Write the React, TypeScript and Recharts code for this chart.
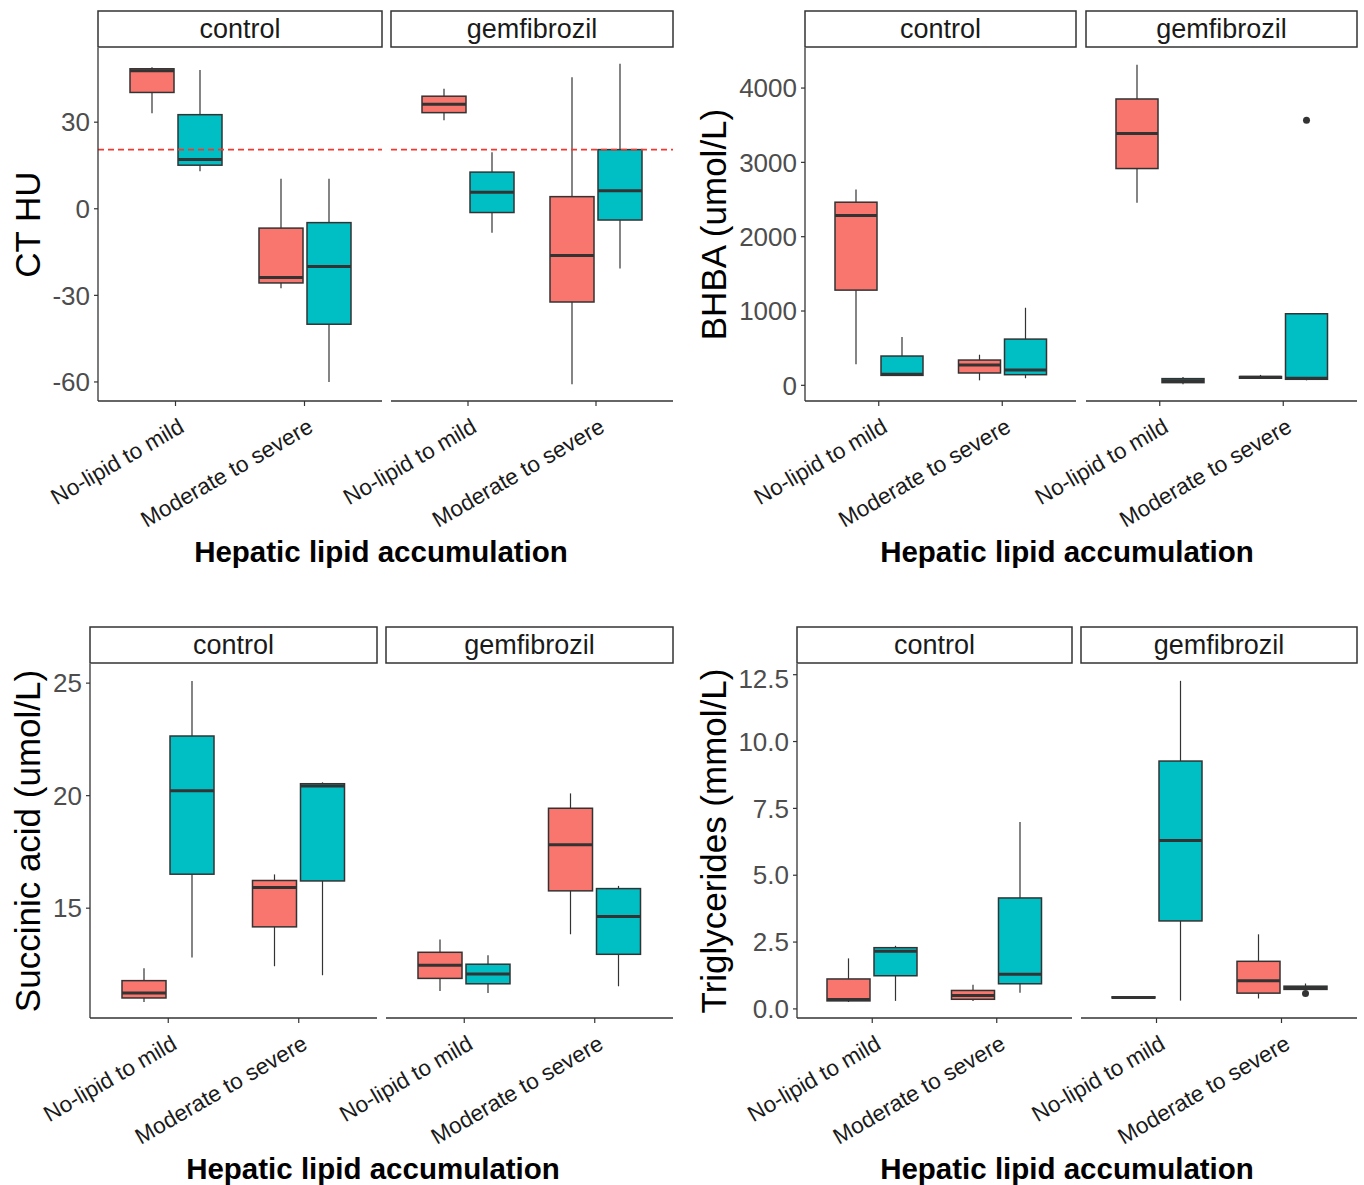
import React from 'react'
import { ComposedChart, Bar, XAxis, YAxis, ReferenceLine } from 'recharts'

const FONT = "'Liberation Sans', Arial, Helvetica, sans-serif"
const RED = '#F8766D'
const TEAL = '#00BFC4'
const INK = '#333333'

const categories = ['No-lipid to mild', 'Moderate to severe']
const facetNames = ['control', 'gemfibrozil']
const xTitle = 'Hepatic lipid accumulation'

// each box: [lower whisker, Q1, median, Q3, upper whisker], one per category
const ctControlRed = [[33.1, 40.3, 47.8, 48.5, 49.0], [-27.5, -25.7, -23.8, -6.7, 10.4]]
const ctControlTeal = [[13.0, 15.1, 17.1, 32.6, 48.1], [-60.0, -40.0, -20.0, -4.8, 10.4]]
const ctGemRed = [[30.7, 33.3, 36.2, 39.0, 41.6], [-60.8, -32.3, -16.2, 4.2, 45.6]]
const ctGemTeal = [[-8.3, -1.3, 5.7, 12.7, 19.6], [-20.7, -3.9, 6.2, 20.5, 50.2]]
const ctThreshold = 20.5
const ctTicks = [-60, -30, 0, 30]

const bhbaControlRed = [[282, 1281, 2285, 2464, 2634], [67, 166, 273, 340, 412]]
const bhbaControlTeal = [[130, 134, 148, 394, 650], [94, 143, 206, 622, 1044]]
const bhbaGemRed = [[2456, 2917, 3387, 3853, 4315], [90, 95, 108, 118, 140]]
const bhbaGemTeal = [[13, 36, 63, 90, 112], [67, 81, 94, 963, 963]]
const bhbaGemTealOutliers = [[], [3566]]
const bhbaTicks = [0, 1000, 2000, 3000, 4000]

const succControlRed = [[10.83, 11.01, 11.23, 11.78, 12.33], [12.42, 14.17, 15.92, 16.23, 16.5]]
const succControlTeal = [[12.81, 16.51, 20.22, 22.65, 25.1], [12.02, 16.21, 20.43, 20.53, 20.59]]
const succGemRed = [[11.32, 11.88, 12.46, 13.04, 13.61], [13.84, 15.77, 17.82, 19.44, 20.1]]
const succGemTeal = [[11.23, 11.64, 12.08, 12.51, 12.91], [11.53, 12.95, 14.63, 15.87, 15.99]]
const succTicks = [15, 20, 25]

const tgControlRed = [[0.26, 0.3, 0.35, 1.12, 1.89], [0.3, 0.36, 0.5, 0.69, 0.9]]
const tgControlTeal = [[0.3, 1.24, 2.16, 2.29, 2.36], [0.6, 0.94, 1.3, 4.15, 6.99]]
const tgGemRed = [[0.4, 0.41, 0.43, 0.45, 0.46], [0.39, 0.59, 1.05, 1.78, 2.79]]
const tgGemTeal = [[0.31, 3.29, 6.3, 9.27, 12.27], [0.73, 0.73, 0.79, 0.85, 0.95]]
const tgGemTealOutliers = [[], [0.58]]
const tgTicks = [0, 2.5, 5, 7.5, 10, 12.5]

interface Box {
  s: number[]
  out: number[]
}

const noOut = [[], []]

function makeRows(red: number[][], teal: number[][], redOut: number[][] = noOut, tealOut: number[][] = noOut) {
  return categories.map((cat, i) => ({
    cat,
    red: { s: red[i], out: redOut[i] },
    teal: { s: teal[i], out: tealOut[i] },
  }))
}

const extent = (b: Box) => [Math.min(b.s[0], ...b.out), Math.max(b.s[4], ...b.out)]

function BoxShape(props: any) {
  const { x, y, width, height, payload, group, color } = props
  const b: Box = payload[group]
  const [lo, hi] = extent(b)
  const span = hi - lo || 1
  const py = (v: number) => y + ((hi - v) / span) * height
  const cx = x + width / 2
  const [wl, q1, med, q3, wh] = b.s
  return (
    <g>
      <line x1={cx} x2={cx} y1={py(wh)} y2={py(q3)} stroke={INK} strokeWidth={1.2} />
      <line x1={cx} x2={cx} y1={py(q1)} y2={py(wl)} stroke={INK} strokeWidth={1.2} />
      <rect
        x={x}
        y={py(q3)}
        width={width}
        height={Math.max(py(q1) - py(q3), 0.5)}
        fill={color}
        stroke={INK}
        strokeWidth={1.5}
      />
      <line x1={x} x2={x + width} y1={py(med)} y2={py(med)} stroke={INK} strokeWidth={3} />
      {b.out.map((v, i) => (
        <circle key={i} cx={cx} cy={py(v)} r={3.5} fill={INK} />
      ))}
    </g>
  )
}

function XTick(props: any) {
  const { x, y, payload } = props
  const ax = x + 10
  const ay = y + 23
  return (
    <text
      x={ax}
      y={ay}
      transform={`rotate(-30, ${ax}, ${ay})`}
      textAnchor="end"
      fontSize={22.5}
      fontFamily={FONT}
      fill="#1a1a1a"
    >
      {payload.value}
    </text>
  )
}

const Y_W = 80
const X_H = 130

function Facet({ left, top, plotW, plotH, showY, domain, ticks, fmt, rows, refY }: any) {
  const yw = showY ? Y_W : 0
  const pad = Math.round(plotW * 0.0455)
  const bs = Math.round(plotW * 0.155)
  return (
    <div style={{ position: 'absolute', left: left - yw, top }}>
      <ComposedChart
        width={plotW + yw}
        height={plotH + X_H}
        data={rows}
        margin={{ top: 0, right: 0, bottom: 0, left: 0 }}
        barGap={4}
      >
        <XAxis
          dataKey="cat"
          height={X_H}
          padding={{ left: pad, right: pad }}
          interval={0}
          tickSize={5}
          axisLine={{ stroke: INK, strokeWidth: 1.3 }}
          tickLine={{ stroke: INK, strokeWidth: 1.2 }}
          tick={<XTick />}
        />
        <YAxis
          type="number"
          domain={domain}
          ticks={ticks}
          allowDataOverflow
          hide={!showY}
          width={Y_W}
          tickSize={4}
          tickMargin={4}
          tickFormatter={fmt}
          axisLine={{ stroke: INK, strokeWidth: 1.3 }}
          tickLine={{ stroke: INK, strokeWidth: 1.2 }}
          tick={{ fill: '#4d4d4d', fontSize: 26, fontFamily: FONT }}
        />
        {refY !== undefined && (
          <ReferenceLine y={refY} stroke="#F2382F" strokeWidth={1.6} strokeDasharray="6 4" />
        )}
        <Bar
          dataKey={(d: any) => extent(d.red)}
          barSize={bs}
          isAnimationActive={false}
          shape={(p: any) => <BoxShape {...p} group="red" color={RED} />}
        />
        <Bar
          dataKey={(d: any) => extent(d.teal)}
          barSize={bs}
          isAnimationActive={false}
          shape={(p: any) => <BoxShape {...p} group="teal" color={TEAL} />}
        />
      </ComposedChart>
    </div>
  )
}

const plain = (v: number) => String(v)
const oneDec = (v: number) => v.toFixed(1)

const panels = [
  {
    id: 'ct',
    yLabel: 'CT HU',
    top: 48,
    bottom: 401,
    facets: [[98, 382], [391, 673]],
    domain: [-66.6, 55.7],
    ticks: ctTicks,
    fmt: plain,
    rows: [makeRows(ctControlRed, ctControlTeal), makeRows(ctGemRed, ctGemTeal)],
    refY: ctThreshold,
    yTitleX: 40,
    xTitleX: 381,
  },
  {
    id: 'bhba',
    yLabel: 'BHBA (umol/L)',
    top: 48,
    bottom: 401,
    facets: [[805, 1076], [1086, 1357]],
    domain: [-211, 4539],
    ticks: bhbaTicks,
    fmt: plain,
    rows: [makeRows(bhbaControlRed, bhbaControlTeal), makeRows(bhbaGemRed, bhbaGemTeal, noOut, bhbaGemTealOutliers)],
    yTitleX: 726,
    xTitleX: 1067,
  },
  {
    id: 'succ',
    yLabel: 'Succinic acid (umol/L)',
    top: 664,
    bottom: 1018,
    facets: [[90, 377], [386, 673]],
    domain: [10.12, 25.85],
    ticks: succTicks,
    fmt: plain,
    rows: [makeRows(succControlRed, succControlTeal), makeRows(succGemRed, succGemTeal)],
    yTitleX: 40,
    xTitleX: 373,
  },
  {
    id: 'tg',
    yLabel: 'Triglycerides (mmol/L)',
    top: 664,
    bottom: 1018,
    facets: [[797, 1072], [1081, 1357]],
    domain: [-0.34, 12.9],
    ticks: tgTicks,
    fmt: oneDec,
    rows: [makeRows(tgControlRed, tgControlTeal), makeRows(tgGemRed, tgGemTeal, noOut, tgGemTealOutliers)],
    yTitleX: 726,
    xTitleX: 1067,
  },
]

function Panel({ p }: { p: (typeof panels)[number] }) {
  const plotH = p.bottom - p.top
  const midY = (p.top + p.bottom) / 2
  return (
    <>
      {p.facets.map(([l, r], i) => (
        <Facet
          key={i}
          left={l}
          top={p.top}
          plotW={r - l}
          plotH={plotH}
          showY={i === 0}
          domain={p.domain}
          ticks={p.ticks}
          fmt={p.fmt}
          rows={p.rows[i]}
          refY={p.refY}
        />
      ))}
      <svg
        width={1364}
        height={1185}
        style={{ position: 'absolute', left: 0, top: 0, pointerEvents: 'none', overflow: 'visible' }}
      >
        {p.facets.map(([l, r], i) => (
          <g key={i}>
            <rect x={l} y={p.top - 37} width={r - l} height={36} fill="#fff" stroke={INK} strokeWidth={1.5} />
            <text x={(l + r) / 2} y={p.top - 10} textAnchor="middle" fontSize={27} fontFamily={FONT} fill="#1a1a1a">
              {facetNames[i]}
            </text>
          </g>
        ))}
        <text
          x={p.yTitleX}
          y={midY}
          transform={`rotate(-90, ${p.yTitleX}, ${midY})`}
          textAnchor="middle"
          fontSize={35}
          fontFamily={FONT}
          fill="#000"
        >
          {p.yLabel}
        </text>
        <text
          x={p.xTitleX}
          y={p.bottom + 161}
          textAnchor="middle"
          fontSize={29.5}
          fontWeight="bold"
          fontFamily={FONT}
          fill="#000"
        >
          {xTitle}
        </text>
      </svg>
    </>
  )
}

export default function App() {
  return (
    <div
      style={{
        position: 'absolute',
        left: 0,
        top: 0,
        width: 1364,
        height: 1185,
        background: '#fff',
        overflow: 'hidden',
        fontFamily: FONT,
      }}
    >
      <style>{'.recharts-surface{overflow:visible}'}</style>
      {panels.map((p) => (
        <Panel key={p.id} p={p} />
      ))}
    </div>
  )
}
